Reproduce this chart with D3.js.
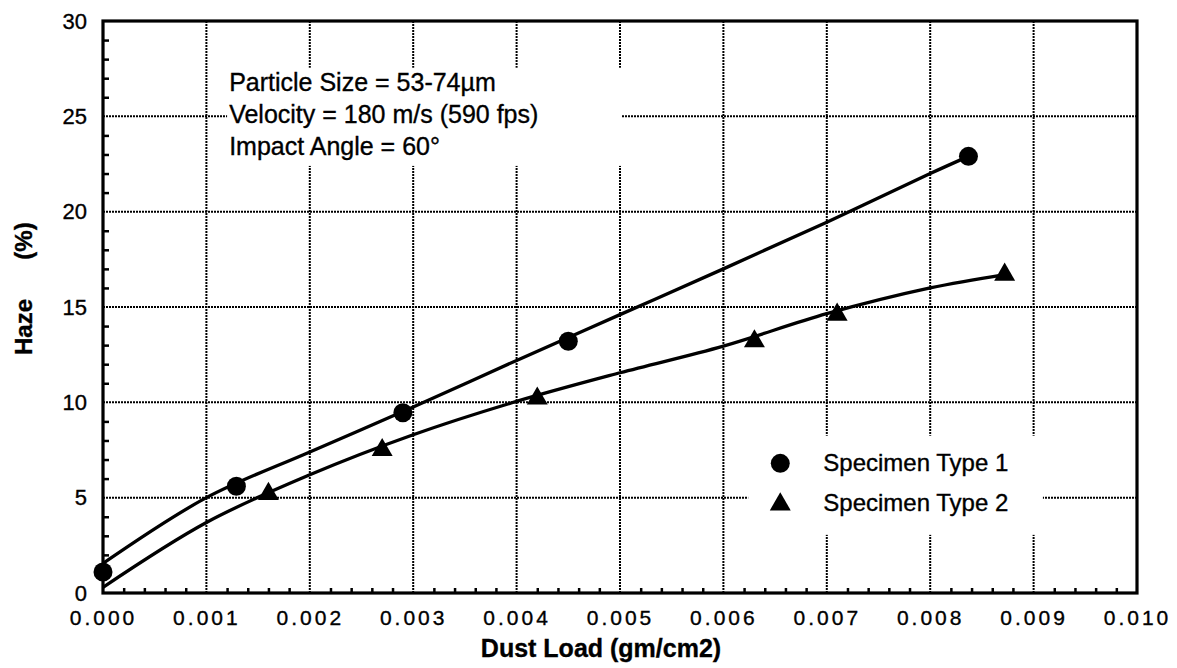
<!DOCTYPE html>
<html>
<head>
<meta charset="utf-8">
<script src="https://cdn.jsdelivr.net/npm/d3@7"></script>
<style>
  body { margin: 0; background: #fff; }
  text { font-family: "Liberation Sans", Arial, sans-serif; fill: #000; stroke: #000; stroke-width: 0.35px; }
</style>
</head>
<body>
<div id="chart"></div>
<script>
// measured points
const type1Load = [0.0000, 0.00129, 0.0029, 0.0045, 0.00837];
const type1Haze = [1.1, 5.6, 9.45, 13.2, 22.9];
const type2Load = [0.0016, 0.0027, 0.0042, 0.0063, 0.0071, 0.00872];
const type2Haze = [5.2, 7.5, 10.2, 13.2, 14.6, 16.7];

// fitted curves
const fit1Load = [0.000, 0.001, 0.002, 0.003, 0.004, 0.005, 0.006, 0.007, 0.008, 0.00837];
const fit1Haze = [1.55, 5.0, 7.4, 9.75, 12.2, 14.6, 17.0, 19.45, 22.0, 22.9];
const fit2Load = [0.000, 0.001, 0.002, 0.003, 0.004, 0.005, 0.006, 0.007, 0.008, 0.00872];
const fit2Haze = [0.3, 3.7, 6.2, 8.3, 10.05, 11.55, 12.95, 14.65, 16.0, 16.7];

const xTicks = [0, 0.001, 0.002, 0.003, 0.004, 0.005, 0.006, 0.007, 0.008, 0.009, 0.010];
const yTicks = [0, 5, 10, 15, 20, 25, 30];
const notes = ["Particle Size = 53-74\u00b5m", "Velocity = 180 m/s (590 fps)", "Impact Angle = 60\u00b0"];
const legendLabels = ["Specimen Type 1", "Specimen Type 2"];

const margin = {top: 21, right: 40, bottom: 75, left: 103},
  width = 1177 - margin.left - margin.right,
  height = 668 - margin.top - margin.bottom;

const svg = d3.select("#chart")
  .append("svg")
    .attr("width", 1177)
    .attr("height", 668)
  .append("g")
    .attr("transform", `translate(${margin.left},${margin.top})`);

const x = d3.scaleLinear().domain([0, 0.010]).range([0, width]);
const y = d3.scaleLinear().domain([0, 30]).range([height, 0]);

// dotted grid
svg.append("g")
  .selectAll("line")
  .data(xTicks.slice(1, -1))
  .join("line")
    .attr("x1", d => x(d)).attr("x2", d => x(d))
    .attr("y1", 0).attr("y2", height)
    .attr("stroke", "#000").attr("stroke-width", 2)
    .attr("stroke-dasharray", "2,1");
svg.append("g")
  .selectAll("line")
  .data(yTicks.slice(1, -1))
  .join("line")
    .attr("x1", 0).attr("x2", width)
    .attr("y1", d => y(d)).attr("y2", d => y(d))
    .attr("stroke", "#000").attr("stroke-width", 2)
    .attr("stroke-dasharray", "2,1");

// white boxes behind the notes and the legend
svg.append("rect")
  .attr("x", x(0.00120)).attr("y", y(27.55))
  .attr("width", x(0.00381)).attr("height", y(0) - y(5.15))
  .attr("fill", "#fff");
svg.append("rect")
  .attr("x", x(0.00624)).attr("y", y(8.25))
  .attr("width", x(0.00285)).attr("height", y(0) - y(5.2))
  .attr("fill", "#fff");

// minor ticks, inside
const xMinor = d3.range(0, 50).map(i => i * 0.0002).filter((d, i) => i % 5 !== 0);
const yMinor = d3.range(0, 30).filter(d => d % 5 !== 0);
svg.append("g")
  .attr("transform", `translate(0,${height})`)
  .call(d3.axisTop(x).tickValues(xMinor).tickSize(5).tickFormat(""))
  .call(g => g.select(".domain").remove())
  .selectAll("line").attr("stroke-width", 2.5);
svg.append("g")
  .call(d3.axisRight(y).tickValues(yMinor).tickSize(6).tickFormat(""))
  .call(g => g.select(".domain").remove())
  .selectAll("line").attr("stroke-width", 2.5);

// tick labels
const xAxis = svg.append("g")
  .attr("transform", `translate(0,${height})`)
  .call(d3.axisBottom(x).tickValues(xTicks).tickSize(0).tickPadding(17).tickFormat(d3.format(".3f")));
xAxis.select(".domain").remove();
xAxis.selectAll("text")
  .style("font-size", "21px")
  .style("letter-spacing", "3px");

const yAxis = svg.append("g")
  .call(d3.axisLeft(y).tickValues(yTicks).tickSize(0).tickPadding(16));
yAxis.select(".domain").remove();
yAxis.selectAll("text").style("font-size", "22px");

// frame
svg.append("rect")
  .attr("width", width).attr("height", height)
  .attr("fill", "none").attr("stroke", "#000").attr("stroke-width", 3.2);

// fitted lines
const line = d3.line()
  .x(d => x(d[0]))
  .y(d => y(d[1]))
  .curve(d3.curveCatmullRom);
svg.append("path")
  .datum(d3.zip(fit1Load, fit1Haze))
  .attr("fill", "none").attr("stroke", "#000").attr("stroke-width", 3.3)
  .attr("d", line);
svg.append("path")
  .datum(d3.zip(fit2Load, fit2Haze))
  .attr("fill", "none").attr("stroke", "#000").attr("stroke-width", 3.3)
  .attr("d", line);

// markers
svg.append("g")
  .selectAll("circle")
  .data(d3.zip(type1Load, type1Haze))
  .join("circle")
    .attr("cx", d => x(d[0])).attr("cy", d => y(d[1]))
    .attr("r", 9.5).attr("fill", "#000");
const tri = d3.symbol().type(d3.symbolTriangle).size(190);
svg.append("g")
  .selectAll("path")
  .data(d3.zip(type2Load, type2Haze))
  .join("path")
    .attr("transform", d => `translate(${x(d[0])},${y(d[1])})`)
    .attr("d", tri).attr("fill", "#000");

// notes
svg.append("text")
  .attr("x", x(0.00122))
  .attr("y", y(26.35))
  .style("font-size", "25px")
  .selectAll("tspan")
  .data(notes)
  .join("tspan")
    .attr("x", x(0.00122))
    .attr("dy", (d, i) => i === 0 ? 0 : 32)
    .text(d => d);

// legend
const legend = svg.append("g")
  .attr("transform", `translate(${x(0.00655)},${y(6.8)})`);
legend.append("circle").attr("cx", 0).attr("cy", 0).attr("r", 9.5).attr("fill", "#000");
legend.append("path").attr("transform", "translate(0,41)").attr("d", tri).attr("fill", "#000");
legend.selectAll("text")
  .data(legendLabels)
  .join("text")
    .attr("x", 43)
    .attr("y", (d, i) => 8 + i * 40)
    .style("font-size", "24px")
    .text(d => d);

// axis titles
svg.append("text")
  .attr("x", width / 2 - 19)
  .attr("y", height + 64)
  .style("text-anchor", "middle")
  .style("font-size", "25px")
  .style("font-weight", "bold")
  .text("Dust Load (gm/cm2)");

svg.append("text")
  .attr("transform", "rotate(-90)")
  .attr("x", -(327 - margin.top))
  .attr("y", 32 - margin.left)
  .style("text-anchor", "middle")
  .style("font-size", "24px")
  .style("font-weight", "bold")
  .text("Haze");
svg.append("text")
  .attr("transform", "rotate(-90)")
  .attr("x", -(241 - margin.top))
  .attr("y", 32 - margin.left)
  .style("text-anchor", "middle")
  .style("font-size", "24px")
  .style("font-weight", "bold")
  .text("(%)");
</script>
</body>
</html>
